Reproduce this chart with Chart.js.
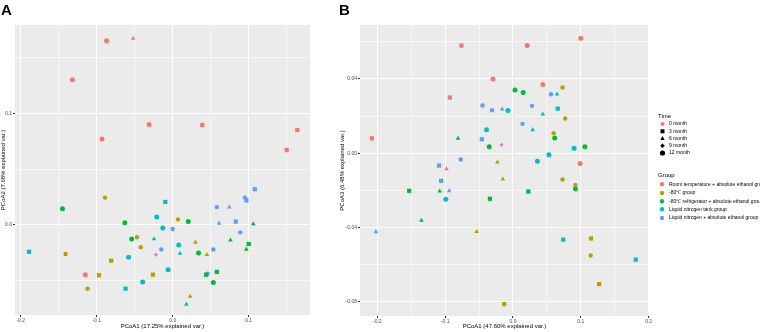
<!DOCTYPE html>
<html>
<head>
<meta charset="utf-8">
<script src="https://cdn.jsdelivr.net/npm/chart.js@4/dist/chart.umd.min.js"></script>
<style>
    body { margin: 0; background: #fff; }
    #grafica-a { position: absolute; left: 0; top: 0; }
    #grafica-b { position: absolute; left: 335px; top: 0; }
</style>
</head>
<body>
<canvas id="grafica-a" width="336" height="332"></canvas>
<canvas id="grafica-b" width="425" height="332"></canvas>
<script>
// Categorías
const grupos = ["Room temperature + absolute ethanol group", "-80\u2103 group", "-80\u2103 refrigerator + absolute ethanol group", "Liquid nitrogen tank group", "Liquid nitrogen + absolute ethanol group"];
const tiempos = ["0 month", "3 month", "6 month", "9 month", "12 month"];
const colores = ["#F8766D", "#B79F00", "#00BA38", "#00BFC4", "#619CFF"];
const colorControl = "#F564E3";

// Panel A: [PCoA1, PCoA2, tiempo]
const aRoom = [[-0.087, 0.165, 4], [-0.052, 0.167, 2], [-0.132, 0.130, 4], [-0.031, 0.090, 4], [-0.093, 0.077, 4], [0.039, 0.0895, 1], [0.164, 0.085, 1], [0.150, 0.067, 1], [-0.115, -0.0445, 4]];
const aMenos80 = [[-0.089, 0.0245, 3], [0.007, 0.005, 3], [-0.047, -0.011, 3], [0.030, -0.0155, 2], [-0.042, -0.020, 3], [-0.141, -0.026, 3], [-0.081, -0.032, 1], [-0.097, -0.045, 1], [-0.026, -0.0445, 1], [-0.112, -0.057, 3], [0.023, -0.064, 2], [0.045, -0.0266, 2]];
const aNevera = [[-0.145, 0.0146, 4], [0.0205, 0.003, 4], [-0.063, 0.002, 4], [-0.054, -0.0125, 4], [0.034, -0.025, 4], [0.106, 0.001, 2], [0.076, -0.0137, 2], [0.100, -0.017, 1], [0.097, -0.0218, 2], [0.058, -0.042, 1], [0.044, -0.0445, 1], [0.0535, -0.0516, 4]];
const aTanque = [[-0.0097, 0.0206, 1], [-0.021, 0.0072, 4], [-0.013, -0.0027, 4], [-0.0246, -0.0125, 2], [0.008, -0.018, 4], [-0.189, -0.024, 1], [0.0096, -0.0254, 2], [-0.058, -0.029, 4], [-0.006, -0.040, 4], [-0.0395, -0.051, 4], [-0.062, -0.057, 1], [0.018, -0.071, 2]];
const aNitro = [[0.0, -0.0036, 3], [-0.015, -0.022, 3], [0.108, 0.032, 1], [0.095, 0.0245, 3], [0.097, 0.022, 1], [0.058, 0.016, 3], [0.0745, 0.016, 2], [0.061, 0.0015, 2], [0.083, 0.003, 1], [0.089, -0.0066, 3], [0.0535, -0.022, 3], [0.046, -0.0436, 3]];
const aControl = [[-0.022, -0.0266, 0]];

// Panel B: [PCoA1, PCoA3, tiempo]
const bRoom = [[-0.208, 0.008, 1], [-0.076, 0.058, 1], [0.021, 0.058, 4], [-0.0295, 0.040, 4], [-0.093, 0.030, 1], [0.044, 0.037, 4], [-0.098, -0.0085, 2], [0.100, 0.062, 4], [0.099, -0.0056, 4]];
const bMenos80 = [[0.073, 0.0354, 3], [0.077, 0.0187, 3], [0.060, 0.0108, 3], [-0.023, -0.0049, 2], [0.073, -0.0142, 3], [-0.015, -0.014, 2], [-0.0535, -0.0423, 2], [-0.013, -0.0814, 1], [0.092, -0.0171, 3], [0.115, -0.046, 1], [0.1145, -0.0552, 3], [0.127, -0.0706, 1]];
const bNevera = [[0.003, 0.034, 4], [0.015, 0.0327, 4], [0.0615, 0.0082, 4], [-0.081, 0.0079, 2], [-0.035, 0.0034, 4], [0.106, 0.0034, 4], [-0.153, -0.0203, 1], [-0.108, -0.0205, 2], [0.0226, -0.0207, 1], [-0.034, -0.0246, 1], [-0.135, -0.0363, 2], [0.092, -0.0192, 4]];
const bTanque = [[0.065, 0.0318, 2], [-0.0074, 0.023, 4], [0.066, 0.024, 1], [0.044, 0.021, 2], [-0.039, 0.0126, 4], [0.029, 0.0126, 2], [0.053, -0.0009, 4], [0.036, -0.0043, 4], [0.090, 0.0027, 4], [-0.099, -0.0248, 4], [0.074, -0.0466, 1], [0.181, -0.0574, 1]];
const bNitro = [[0.056, 0.0318, 3], [-0.045, 0.0257, 3], [-0.031, 0.0232, 3], [-0.016, 0.0237, 2], [0.028, 0.0255, 3], [0.014, 0.0158, 3], [-0.046, 0.0075, 1], [-0.077, -0.0034, 3], [-0.109, -0.0067, 1], [-0.106, -0.0149, 1], [-0.094, -0.0203, 2], [-0.202, -0.0424, 2]];
const bControl = [[-0.0167, 0.0046, 0]];

// Ejes
const aXTicks = [-0.2, -0.15, -0.1, -0.05, 0, 0.05, 0.1, 0.15];
const aXLabels = { "-0.2": "-0.2", "-0.1": "-0.1", "0": "0.0", "0.1": "0.1" };
const aYTicks = [-0.05, 0, 0.05, 0.1, 0.15];
const aYLabels = { "0": "0.0", "0.1": "0.1" };
const bXTicks = [-0.2, -0.15, -0.1, -0.05, 0, 0.05, 0.1, 0.15, 0.2];
const bXLabels = { "-0.2": "-0.2", "-0.1": "-0.1", "0": "0.0", "0.1": "0.1", "0.2": "0.2" };
const bYTicks = [-0.08, -0.06, -0.04, -0.02, 0, 0.02, 0.04, 0.06];
const bYLabels = { "-0.08": "-0.08", "-0.04": "-0.04", "0": "0.00", "0.04": "0.04" };

const formas = ["rectRot", "rect", "triangle", "circle", "circle"];
const radios = [2, 3, 2.7, 2.2, 2.5];

Chart.defaults.font.family = "'Liberation Sans', Arial, sans-serif";

function clave(v) {
    return String(Math.round(v * 1000) / 1000);
}

function conjuntos(listas) {
    return listas.map(([puntos, color], i) => ({
        label: i < grupos.length ? grupos[i] : "control",
        data: puntos.map((p) => ({ x: p[0], y: p[1] })),
        backgroundColor: color,
        borderWidth: 0,
        pointStyle: puntos.map((p) => formas[p[2]]),
        pointRadius: puntos.map((p) => radios[p[2]]),
    }));
}

function eje(min, max, ticks, etiquetas, titulo, tam, horizontal, pad) {
    return {
        type: "linear",
        min,
        max,
        afterBuildTicks: (s) => { s.ticks = ticks.map((v) => ({ value: v })); },
        afterFit: (s) => { if (horizontal) s.height = tam; else s.width = tam; },
        border: { display: false },
        grid: {
            color: "#ffffff",
            lineWidth: (c) => (etiquetas[clave(c.tick.value)] ? 1 : 0.6),
            tickColor: (c) => (etiquetas[clave(c.tick.value)] ? "#333333" : "rgba(0,0,0,0)"),
            tickLength: 2,
        },
        ticks: {
            autoSkip: false,
            maxRotation: 0,
            padding: 1,
            color: "#4d4d4d",
            font: { size: 5 },
            callback: (v) => etiquetas[clave(v)] || "",
        },
        title: { display: true, text: titulo, color: "#000", font: { size: 6 }, padding: pad },
    };
}

const fondo = {
    id: "fondo",
    beforeDraw(chart) {
        const { ctx, chartArea: a } = chart;
        ctx.save();
        ctx.fillStyle = "#EBEBEB";
        ctx.fillRect(a.left, a.top, a.right - a.left, a.bottom - a.top);
        ctx.restore();
    },
};

function letra(texto, x, y) {
    return {
        id: "letra" + texto,
        afterDraw(chart) {
            const ctx = chart.ctx;
            ctx.save();
            ctx.font = "bold 15px 'Liberation Sans', Arial, sans-serif";
            ctx.fillStyle = "#000";
            ctx.textBaseline = "middle";
            ctx.fillText(texto, x, y);
            ctx.restore();
        },
    };
}

const leyenda = {
    id: "leyenda",
    afterDraw(chart) {
        const ctx = chart.ctx;
        const fam = "'Liberation Sans', Arial, sans-serif";
        ctx.save();
        ctx.textBaseline = "middle";
        ctx.fillStyle = "#000";
        ctx.font = "6px " + fam;
        ctx.fillText("Time", 323, 116);
        ctx.fillText("Group", 323, 175);
        ctx.font = "5px " + fam;
        const yT = [124, 131.3, 138.3, 145.7, 153];
        tiempos.forEach((t, i) => {
            ctx.fillStyle = "#000";
            ctx.fillText(t, 334, yT[i]);
            ctx.fillStyle = i === 0 ? colorControl : "#000";
            const x = 327.5, y = yT[i];
            ctx.beginPath();
            if (i === 1) ctx.rect(x - 2, y - 2, 4, 4);
            else if (i === 2) { ctx.moveTo(x, y - 2.4); ctx.lineTo(x + 2.2, y + 1.6); ctx.lineTo(x - 2.2, y + 1.6); ctx.closePath(); }
            else if (i === 3) { ctx.moveTo(x, y - 2.3); ctx.lineTo(x + 2.3, y); ctx.lineTo(x, y + 2.3); ctx.lineTo(x - 2.3, y); ctx.closePath(); }
            else ctx.arc(x, y, i === 4 ? 2.6 : 2.1, 0, Math.PI * 2);
            ctx.fill();
        });
        const yG = [184.3, 193, 201.3, 209.3, 218];
        grupos.forEach((g, i) => {
            ctx.fillStyle = colores[i];
            ctx.beginPath();
            ctx.arc(327, yG[i], 2.2, 0, Math.PI * 2);
            ctx.fill();
            ctx.fillStyle = "#000";
            ctx.fillText(g, 334, yG[i]);
        });
        ctx.restore();
    },
};

function grafica(id, series, x, y, padding, extras) {
    return new Chart(document.getElementById(id), {
        type: "scatter",
        data: { datasets: conjuntos(series) },
        options: {
            responsive: false,
            animation: false,
            devicePixelRatio: 1,
            layout: { padding },
            plugins: { legend: { display: false }, tooltip: { enabled: false } },
            scales: { x, y },
        },
        plugins: [fondo, ...extras],
    });
}

grafica(
    "grafica-a",
    [[aRoom, colores[0]], [aMenos80, colores[1]], [aNevera, colores[2]], [aTanque, colores[3]], [aNitro, colores[4]], [aControl, colorControl]],
    eje(-0.2075, 0.1807, aXTicks, aXLabels, "PCoA1 (17.25% explained var.)", 17, true, { top: 0, bottom: 2 }),
    eje(-0.0806, 0.179, aYTicks, aYLabels, "PCoA2 (7.68% explained var.)", 15, false, { top: 0, bottom: 0 }),
    { left: 0, top: 25, right: 26, bottom: 0 },
    [letra("A", 1, 11)]
);

grafica(
    "grafica-b",
    [[bRoom, colores[0]], [bMenos80, colores[1]], [bNevera, colores[2]], [bTanque, colores[3]], [bNitro, colores[4]], [bControl, colorControl]],
    eje(-0.2255, 0.2005, bXTicks, bXLabels, "PCoA1 (47.60% explained var.)", 16, true, { top: 0, bottom: 2 }),
    eje(-0.0878, 0.0691, bYTicks, bYLabels, "PCoA3 (6.48% explained var.)", 25, false, { top: 4, bottom: 0 }),
    { left: 0, top: 25, right: 111, bottom: 0 },
    [letra("B", 4, 11), leyenda]
);
</script>
</body>
</html>
